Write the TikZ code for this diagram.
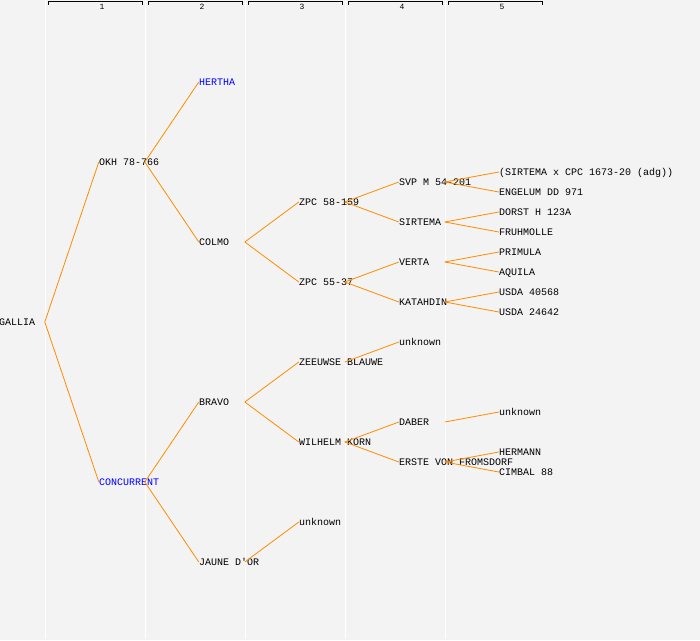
\documentclass[tikz,border=0pt]{standalone}
\usepackage{fontspec}
\setmonofont{Liberation Mono}
\definecolor{pagebg}{HTML}{F3F3F3}
\definecolor{linkorange}{HTML}{FF8C00}
\tikzset{
  plant/.style  = {inner sep=0pt, text width=180pt, align=flush left,
                   text height=7pt, text depth=0pt,
                   execute at begin node={\spaceskip=0pt\xspaceskip=0pt\relax},
                   font=\ttfamily\fontsize{10}{10}\selectfont},
  hilite/.style = {text=blue},
  colsep/.style = {white, line width=1pt},
  bracket/.style = {black, line width=0.8pt}
}

\begin{document}
\begin{tikzpicture}[x=1pt, y=-1pt, grow'=right,
  level/.style={sibling distance = 640pt/2^#1, level distance = 100pt},
  every child node/.style={plant},
  edge from parent/.style={draw, linkorange, line width=0.8pt},
  edge from parent path={([xshift=46pt]\tikzparentnode.west) -- (\tikzchildnode.west)}]
\fill[pagebg] (0,0) rectangle (700,640);
\useasboundingbox (0,0) rectangle (700,640);
% generation columns
\foreach \k in {0,...,4} {
  \draw[colsep] (45+100*\k,0) -- (45+100*\k,638);
  \draw[bracket] (48+100*\k,4.5) -- (48+100*\k,1.5) -- (142+100*\k,1.5) -- (142+100*\k,4.5);
  \node[font=\ttfamily\fontsize{8}{8}\selectfont, inner sep=0pt] (gen\k) at (102+100*\k,6.5) {\pgfmathparse{int(\k+1)}\pgfmathresult};
}
% pedigree
\node[plant] (gallia) at (89,322) {GALLIA}
	child { node (okh) {OKH 78-766}
		child { node[hilite] (hertha) {HERTHA} }
		child { node (colmo) {COLMO}
			child { node (zpc58) {ZPC 58-159}
				child { node (svp) {SVP M 54-201}
					child { node (sirxcpc) {(SIRTEMA x CPC 1673-20 (adg))} }
					child { node (engelum) {ENGELUM DD 971} }
				}
				child { node (sirtema) {SIRTEMA}
					child { node (dorst) {DORST H 123A} }
					child { node (fruhmolle) {FRUHMOLLE} }
				}
			}
			child { node (zpc55) {ZPC 55-37}
				child { node (verta) {VERTA}
					child { node (primula) {PRIMULA} }
					child { node (aquila) {AQUILA} }
				}
				child { node (katahdin) {KATAHDIN}
					child { node (usda1) {USDA 40568} }
					child { node (usda2) {USDA 24642} }
				}
			}
		}
	}
	child { node[hilite] (concurrent) {CONCURRENT}
		child { node (bravo) {BRAVO}
			child { node (zeeuwse) {ZEEUWSE BLAUWE}
				child { node (unknownb) {unknown} }
				child[missing]
			}
			child { node (wilhelm) {WILHELM KORN}
				child { node (daber) {DABER}
					child { node (unknownc) {unknown} }
					child[missing]
				}
				child { node (erste) {ERSTE VON FROMSDORF}
					child { node (hermann) {HERMANN} }
					child { node (cimbal) {CIMBAL 88} }
				}
			}
		}
		child { node (jaune) {JAUNE D'OR}
			child { node (unknowna) {unknown} }
			child[missing]
		}
	};
\end{tikzpicture}
\end{document}
